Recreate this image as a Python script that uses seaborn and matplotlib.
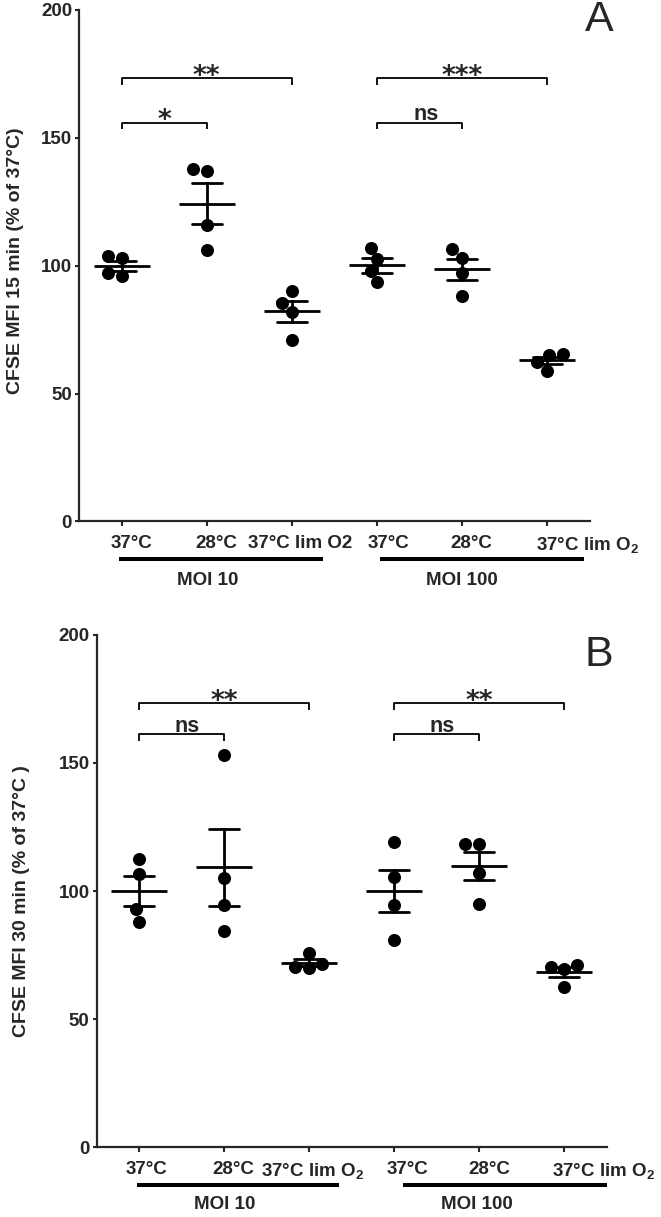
import numpy as np
import pandas as pd
import matplotlib
matplotlib.use("Agg")
import matplotlib.pyplot as plt
import matplotlib.transforms as mtransforms
from matplotlib import font_manager
import seaborn as sns

# ---------------- data ----------------
groups = ["MOI10 37", "MOI10 28", "MOI10 37 limO2", "MOI100 37", "MOI100 28", "MOI100 37 limO2"]
ticklabels_A = ["37°C", "28°C", "37°C lim O2", "37°C", "28°C", "37°C lim O$_2$"]
ticklabels_B = ["37°C", "28°C", "37°C lim O$_2$", "37°C", "28°C", "37°C lim O$_2$"]
moi_labels = ["MOI 10", "MOI 100"]

# Panel A: CFSE MFI 15 min (% of 37°C)
A_moi10_37 = [104, 103, 96, 97]
A_moi10_28 = [137, 138, 116, 106]
A_moi10_lim = [90, 85.5, 82, 71]
A_moi100_37 = [107, 102.5, 98, 93.5]
A_moi100_28 = [106.5, 103, 97, 88]
A_moi100_lim = [65, 65.5, 62.5, 59]

# Panel B: CFSE MFI 30 min (% of 37°C)
B_moi10_37 = [112.5, 106.5, 93, 88]
B_moi10_28 = [153, 105, 94.5, 84.5]
B_moi10_lim = [76, 71.5, 70.5, 70]
B_moi100_37 = [119, 105.5, 94.5, 81]
B_moi100_28 = [118.5, 118.5, 107, 95]
B_moi100_lim = [71, 70.5, 69.5, 62.5]

# comparisons: (group i, group j, label)
comp_A = [(0, 1, "*"), (0, 2, "**"), (3, 4, "ns"), (3, 5, "***")]
comp_B = [(0, 1, "ns"), (0, 2, "**"), (3, 4, "ns"), (3, 5, "**")]

# ---------------- style ----------------
sns.set_style("ticks")
names = {f.name for f in font_manager.fontManager.ttflist}
SANS = "Liberation Sans" if "Liberation Sans" in names else "DejaVu Sans"
plt.rcParams["font.family"] = [SANS, "DejaVu Sans"]
plt.rcParams["mathtext.fontset"] = "custom"
plt.rcParams["mathtext.rm"] = f"{SANS}:bold"
plt.rcParams["mathtext.bf"] = f"{SANS}:bold"
plt.rcParams["mathtext.default"] = "bf"

fig = plt.figure(figsize=(6.61, 12.17), dpi=100)
axA = fig.add_axes([0.1195, 0.5715, 0.7731, 0.4203])
axB = fig.add_axes([0.146, 0.0573, 0.7716, 0.421])


def draw_panel(ax, data_lists, ticklabels, ylabel, letter, letter_xy, comps,
               bracket_levels, label_offsets, ylab_xy, line_y, moi_y,
               moi_spans, moi_centers):
    df = pd.DataFrame({
        "group": np.repeat(groups, [len(v) for v in data_lists]),
        "value": np.concatenate([np.asarray(v, float) for v in data_lists]),
    })
    sns.swarmplot(data=df, x="group", y="value", order=groups, color="black",
                  size=9.4, ax=ax, zorder=3)
    sns.pointplot(data=df, x="group", y="value", order=groups, errorbar="se",
                  capsize=0.35, color="black", linestyle="none", marker="_",
                  markersize=40, markeredgewidth=2, err_kws={"linewidth": 2},
                  ax=ax, zorder=4)
    ax.set_xlim(-0.5, 5.5)
    ax.set_ylim(0, 200)
    ax.set_yticks([0, 50, 100, 150, 200])
    sns.despine(ax=ax)
    for s in ("left", "bottom"):
        ax.spines[s].set_linewidth(1.6)
    ax.tick_params(axis="y", length=3, width=1.5, labelsize=13.5, pad=2)
    ax.tick_params(axis="x", length=3.6, width=1.5, labelsize=13.5, pad=6)
    ax.set_xlabel("")
    ax.set_xticks(range(len(groups)))
    ax.set_xticklabels(ticklabels)
    for lab, dx in zip(ax.get_xticklabels(), label_offsets):
        lab.set_ha("left")
        lab.set_fontweight("bold")
        lab.set_transform(lab.get_transform() +
                          mtransforms.ScaledTranslation(dx / 100, 0, fig.dpi_scale_trans))
    for lab in ax.get_yticklabels():
        lab.set_fontweight("bold")
    ax.set_ylabel(ylabel, fontsize=14, fontweight="bold")
    ax.yaxis.set_label_coords(*ylab_xy)

    # significance brackets
    for (i, j, txt), yb in zip(comps, bracket_levels):
        ax.plot([i, i, j, j], [yb - 2.7, yb, yb, yb - 2.7], color="black",
                lw=1.3, solid_capstyle="butt", zorder=5)
        if txt == "ns":
            ax.annotate(txt, xy=((i + j) / 2 + 0.07, yb), xytext=(0, 1.5),
                        textcoords="offset points", ha="center", va="baseline",
                        fontsize=15.5, fontweight="bold")
        else:
            ax.annotate(txt, xy=((i + j) / 2, yb), xytext=(0, -4.2),
                        textcoords="offset points", ha="center", va="baseline",
                        fontsize=19, fontweight="bold", family="DejaVu Sans")

    # group lines and MOI labels
    trans = mtransforms.blended_transform_factory(ax.transData, ax.transAxes)
    for (x0, x1), xc, txt in zip(moi_spans, moi_centers, moi_labels):
        ax.plot([x0, x1], [line_y, line_y], color="black", lw=2.9,
                transform=trans, clip_on=False, solid_capstyle="butt")
        ax.text(xc, moi_y, txt, transform=trans, ha="center", va="center",
                fontsize=13.5, fontweight="bold")

    fig.text(letter_xy[0], letter_xy[1], letter, ha="center", va="center",
             fontsize=31)


draw_panel(axA,
           [A_moi10_37, A_moi10_28, A_moi10_lim, A_moi100_37, A_moi100_28, A_moi100_lim],
           ticklabels_A, "CFSE MFI 15 min (% of 37°C)", "A",
           (599.5 / 661, 1 - 20 / 1217), comp_A, [156, 173.3, 156, 173.3],
           [-11, -11.5, -44, -9, -12, -11], (-0.1076, 0.509), -0.0739, -0.1163,
           [(-0.03, 2.36), (3.03, 5.43)], [1.01, 4.0])

draw_panel(axB,
           [B_moi10_37, B_moi10_28, B_moi10_lim, B_moi100_37, B_moi100_28, B_moi100_lim],
           ticklabels_B, "CFSE MFI 30 min (% of 37°C )", "B",
           (598.5 / 661, 1 - 655 / 1217), comp_B, [161.3, 173.5, 161.3, 173.5],
           [-13, -12, -48, -7, -11, -12], (-0.131, 0.481), -0.0736, -0.1126,
           [(-0.02, 2.35), (3.1, 5.5)], [1.01, 3.97])

fig.savefig("out.png", dpi=100, facecolor="white")
